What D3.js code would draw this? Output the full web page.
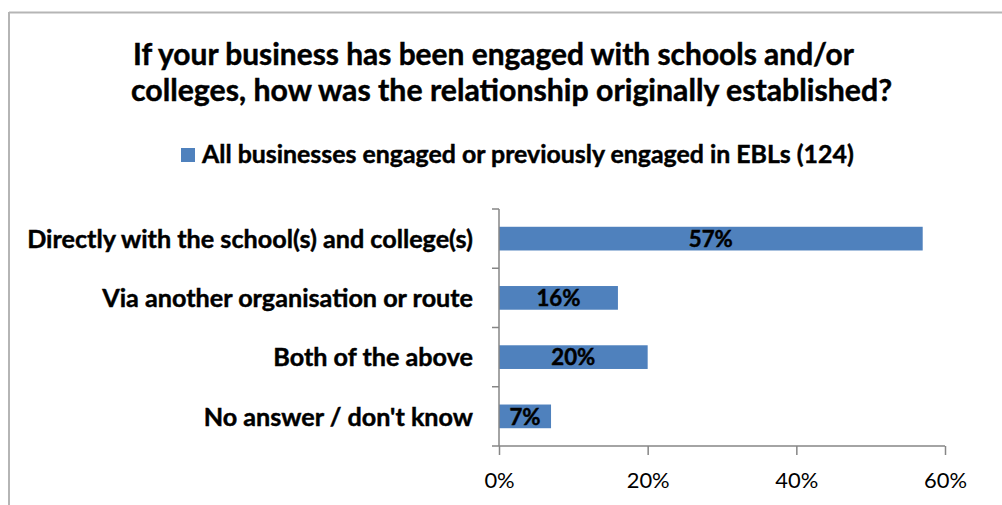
<!DOCTYPE html>
<html>
<head>
<meta charset="utf-8">
<script src="https://cdn.jsdelivr.net/npm/d3@7"></script>
<style>
  html, body { margin: 0; padding: 0; background: #fff; }
  svg { display: block; }
  text { font-family: Lato, "Noto Sans", sans-serif; fill: #000; }
  text.heavy { stroke: #000; stroke-width: 0.45px; }
</style>
</head>
<body>
<svg id="chart" width="1002" height="505"></svg>
<script>
// Survey responses: how the school/college relationship was established
const categories = [
  "Directly with the school(s) and college(s)",
  "Via another organisation or route",
  "Both of the above",
  "No answer / don't know"
];
const values = [57, 16, 20, 7];
const tickValues = [0, 20, 40, 60];
const titleLines = [
  "If your business has been engaged with schools and/or",
  "colleges, how was the relationship originally established?"
];
const legendLabel = "All businesses engaged or previously engaged in EBLs (124)";

const svg = d3.select("#chart");
const barColor = "#4F81BD";
const axisColor = "#868686";

// Scale a text element's font size so its rendered width equals target
function fitWidth(sel, target) {
  const node = sel.node();
  const size = parseFloat(sel.attr("font-size"));
  const w = node.getComputedTextLength();
  sel.attr("font-size", (size * target / w).toFixed(2));
  return size * target / w;
}

// Chart frame (top and left edges)
svg.append("line").attr("x1", 9).attr("x2", 1002).attr("y1", 12.5).attr("y2", 12.5)
  .attr("stroke", "#b5b5b5").attr("stroke-width", 2);
svg.append("line").attr("x1", 9).attr("x2", 9).attr("y1", 12).attr("y2", 505)
  .attr("stroke", "#b5b5b5").attr("stroke-width", 2);

// Title
const titleX = [133, 131];
const titleW = [721, 761];
const titleY = [65, 101];
titleLines.forEach((t, i) => {
  const el = svg.append("text").attr("class", "heavy")
    .attr("x", titleX[i]).attr("y", titleY[i])
    .attr("font-size", 26).attr("font-weight", 700)
    .text(t);
  fitWidth(el, titleW[i]);
});

// Legend
svg.append("rect").attr("x", 181).attr("y", 148).attr("width", 14).attr("height", 14)
  .attr("fill", barColor);
const leg = svg.append("text").attr("class", "heavy").attr("x", 202).attr("y", 163)
  .attr("font-size", 19).attr("font-weight", 700).text(legendLabel);
fitWidth(leg, 652);

// Scales
const x = d3.scaleLinear().domain([0, 60]).range([499, 945]);
const y = d3.scaleBand().domain(categories).range([209, 446]).paddingInner(0.6).paddingOuter(0.3);

// Bars
svg.append("g").selectAll("rect")
  .data(values)
  .join("rect")
  .attr("x", x(0))
  .attr("y", (d, i) => y(categories[i]))
  .attr("width", d => x(d) - x(0))
  .attr("height", y.bandwidth())
  .attr("fill", barColor);

// Value labels centred in each bar
const valLabels = svg.append("g").selectAll("text")
  .data(values)
  .join("text").attr("class", "heavy")
  .attr("x", d => (x(0) + x(d)) / 2)
  .attr("y", (d, i) => y(categories[i]) + y.bandwidth() / 2)
  .attr("dy", "0.37em")
  .attr("text-anchor", "middle")
  .attr("font-size", 20).attr("font-weight", 700)
  .text(d => d + "%");
const vsize = fitWidth(d3.select(valLabels.nodes()[0]), 44);
valLabels.attr("font-size", vsize.toFixed(2));

// Category axis
const yAxis = svg.append("g").attr("transform", `translate(${x(0)},0)`);
yAxis.append("line").attr("x1", 0).attr("x2", 0).attr("y1", 209).attr("y2", 446)
  .attr("stroke", axisColor).attr("stroke-width", 1.5);
const bounds = d3.range(categories.length + 1).map(i => 209 + i * (237 / categories.length));
yAxis.selectAll("line.tick").data(bounds).join("line").attr("class", "tick")
  .attr("x1", -7).attr("x2", 0).attr("y1", d => d).attr("y2", d => d)
  .attr("stroke", axisColor).attr("stroke-width", 1.5);
const catLabels = svg.append("g").selectAll("text")
  .data(categories)
  .join("text").attr("class", "heavy")
  .attr("x", 473)
  .attr("y", d => y(d) + y.bandwidth() / 2)
  .attr("dy", "0.37em")
  .attr("text-anchor", "end")
  .attr("font-size", 20).attr("font-weight", 700)
  .text(d => d);
const csize = fitWidth(d3.select(catLabels.nodes()[0]), 446);
catLabels.attr("font-size", csize.toFixed(2));

// Value axis
const xAxis = svg.append("g").attr("transform", "translate(0,446)")
  .call(d3.axisBottom(x).tickValues(tickValues).tickFormat(d => d + "%").tickSize(9).tickPadding(10));
xAxis.select(".domain").attr("stroke", axisColor).attr("stroke-width", 1.5)
  .attr("d", `M${x(0)},0H${x(60)}`);
xAxis.selectAll(".tick line").attr("stroke", axisColor).attr("stroke-width", 1.5);
xAxis.selectAll(".tick text")
  .attr("font-family", "Lato, 'Noto Sans', sans-serif")
  .attr("font-size", 21).attr("fill", "#000");
const tsize = fitWidth(d3.select(xAxis.selectAll(".tick text").nodes()[3]), 43);
xAxis.selectAll(".tick text").attr("font-size", tsize.toFixed(2)).attr("y", 42).attr("dy", null);
</script>
</body>
</html>
